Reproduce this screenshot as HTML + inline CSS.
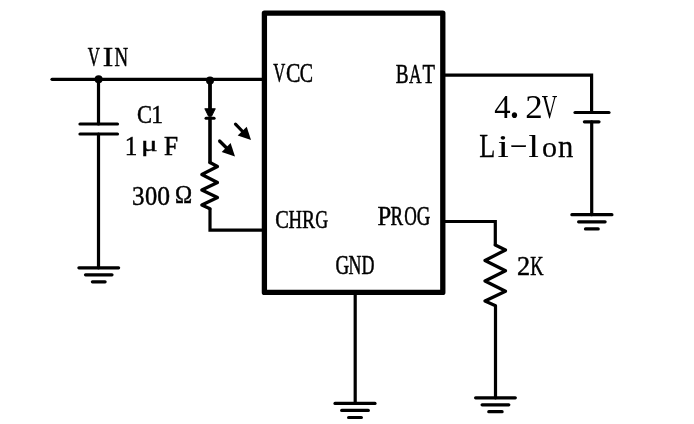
<!DOCTYPE html>
<html><head><meta charset="utf-8"><style>
html,body{margin:0;padding:0;background:#fff;width:694px;height:424px;overflow:hidden}
svg{display:block;will-change:transform}
text{font-family:"Liberation Serif",serif;fill:#000}
</style></head><body><svg width="694" height="424" viewBox="0 0 694 424"><path d="M52 79.3H263" fill="none" stroke="#000" stroke-width="3.2" stroke-linecap="round" stroke-linejoin="round"/><circle cx="98.6" cy="79.2" r="4.0"/><circle cx="210.0" cy="80.6" r="4.0"/><path d="M98.5 79.3V124" fill="none" stroke="#000" stroke-width="3.2" stroke-linecap="round" stroke-linejoin="round"/><path d="M80 124H117.5" fill="none" stroke="#000" stroke-width="3.2" stroke-linecap="round" stroke-linejoin="round"/><path d="M80 134H117.5" fill="none" stroke="#000" stroke-width="3.2" stroke-linecap="round" stroke-linejoin="round"/><path d="M98.5 134V267.8" fill="none" stroke="#000" stroke-width="3.2" stroke-linecap="round" stroke-linejoin="round"/><path d="M78.9 267.8H118.6" fill="none" stroke="#000" stroke-width="3.2" stroke-linecap="round" stroke-linejoin="round"/><path d="M85.5 274.8H112.0" fill="none" stroke="#000" stroke-width="3.2" stroke-linecap="round" stroke-linejoin="round"/><path d="M92.4 281.8H105.1" fill="none" stroke="#000" stroke-width="3.2" stroke-linecap="round" stroke-linejoin="round"/><path d="M210 79.3V109" fill="none" stroke="#000" stroke-width="3.8" stroke-linecap="butt" stroke-linejoin="round"/><path d="M204.8 108.7H215.3L211.6 116.2H208.5Z" fill="#000" stroke="#000" stroke-width="0.9" stroke-linejoin="round"/><path d="M206 118.3H214.1" fill="none" stroke="#000" stroke-width="3.0" stroke-linecap="round" stroke-linejoin="round"/><path d="M210 118V162.5" fill="none" stroke="#000" stroke-width="3.6" stroke-linecap="round" stroke-linejoin="round"/><path d="M210 162.5L217.5 166.5L201.8 174.5L217.5 182.5L201.8 190L217.5 197.5L201.8 205L210 208.7" fill="none" stroke="#000" stroke-width="3.2" stroke-linecap="round" stroke-linejoin="round"/><path d="M210 208.5V230.2H263" fill="none" stroke="#000" stroke-width="3.2" stroke-linecap="butt" stroke-linejoin="miter"/><path d="M235.5 124.2L243.6 132.5" fill="none" stroke="#000" stroke-width="3.2" stroke-linecap="round" stroke-linejoin="round"/><path d="M251.0 140.0L237.7 135.5L246.7 126.7Z" fill="#000"/><path d="M219.6 141.0L227.6 149.0" fill="none" stroke="#000" stroke-width="3.2" stroke-linecap="round" stroke-linejoin="round"/><path d="M235.0 156.4L221.7 152.0L230.6 143.1Z" fill="#000"/><rect x="264.4" y="13.1" width="178.4" height="279.3" fill="none" stroke="#000" stroke-width="5.3" stroke-linejoin="round"/><path d="M443 75.1H591.6V112.5" fill="none" stroke="#000" stroke-width="3.2" stroke-linecap="butt" stroke-linejoin="miter"/><path d="M575 112.5H609" fill="none" stroke="#000" stroke-width="3.2" stroke-linecap="round" stroke-linejoin="round"/><path d="M584.4 121.8H599" fill="none" stroke="#000" stroke-width="3.2" stroke-linecap="round" stroke-linejoin="round"/><path d="M591.7 121.8V214.7" fill="none" stroke="#000" stroke-width="3.2" stroke-linecap="round" stroke-linejoin="round"/><path d="M571.9 214.7H611.9" fill="none" stroke="#000" stroke-width="3.2" stroke-linecap="round" stroke-linejoin="round"/><path d="M578.6 221.8H605.1" fill="none" stroke="#000" stroke-width="3.2" stroke-linecap="round" stroke-linejoin="round"/><path d="M585.5 228.9H598.2" fill="none" stroke="#000" stroke-width="3.2" stroke-linecap="round" stroke-linejoin="round"/><path d="M355.2 292V403.4" fill="none" stroke="#000" stroke-width="3.2" stroke-linecap="round" stroke-linejoin="round"/><path d="M335.0 403.4H375.0" fill="none" stroke="#000" stroke-width="3.2" stroke-linecap="round" stroke-linejoin="round"/><path d="M341.7 410.4H368.3" fill="none" stroke="#000" stroke-width="3.2" stroke-linecap="round" stroke-linejoin="round"/><path d="M348.6 417.5H361.4" fill="none" stroke="#000" stroke-width="3.2" stroke-linecap="round" stroke-linejoin="round"/><path d="M443 221.5H495.3V245.5" fill="none" stroke="#000" stroke-width="3.2" stroke-linecap="butt" stroke-linejoin="miter"/><path d="M495.3 245L505.5 250L485 260.5L505.5 270.8L485 281L505.5 291.2L485 301L495.5 305.8V397.8" fill="none" stroke="#000" stroke-width="3.2" stroke-linecap="round" stroke-linejoin="round"/><path d="M475.6 397.8H515.3" fill="none" stroke="#000" stroke-width="3.2" stroke-linecap="round" stroke-linejoin="round"/><path d="M482.1 404.8H508.8" fill="none" stroke="#000" stroke-width="3.2" stroke-linecap="round" stroke-linejoin="round"/><path d="M488.8 411.7H502.1" fill="none" stroke="#000" stroke-width="3.2" stroke-linecap="round" stroke-linejoin="round"/><text transform="matrix(0.5997 0 0 0.9695 87.84 65.80)" font-size="28.0" stroke="#000" stroke-width="0.574">V</text><text transform="matrix(1.1258 0 0 0.9695 102.79 65.80)" font-size="28.0" stroke="#000" stroke-width="0.430">I</text><text transform="matrix(0.6739 0 0 0.9695 114.48 65.80)" font-size="28.0" stroke="#000" stroke-width="0.548">N</text><text transform="matrix(0.5946 0 0 0.9586 273.14 81.80)" font-size="28.0" stroke="#000" stroke-width="0.579">V</text><text transform="matrix(0.7727 0 0 0.9586 286.04 81.80)" font-size="28.0" stroke="#000" stroke-width="0.520">C</text><text transform="matrix(0.7102 0 0 0.9586 299.81 81.80)" font-size="28.0" stroke="#000" stroke-width="0.539">C</text><text transform="matrix(0.6878 0 0 0.9913 395.77 82.60)" font-size="28.0" stroke="#000" stroke-width="0.536">B</text><text transform="matrix(0.6205 0 0 0.9913 409.06 82.60)" font-size="28.0" stroke="#000" stroke-width="0.558">A</text><text transform="matrix(0.7283 0 0 0.9913 422.46 82.60)" font-size="28.0" stroke="#000" stroke-width="0.523">T</text><text transform="matrix(0.7289 0 0 0.9313 275.29 227.80)" font-size="28.0" stroke="#000" stroke-width="0.542">C</text><text transform="matrix(0.6696 0 0 0.9313 288.58 227.80)" font-size="28.0" stroke="#000" stroke-width="0.562">H</text><text transform="matrix(0.6983 0 0 0.9313 301.96 227.80)" font-size="28.0" stroke="#000" stroke-width="0.552">R</text><text transform="matrix(0.6402 0 0 0.9313 315.19 227.80)" font-size="28.0" stroke="#000" stroke-width="0.573">G</text><text transform="matrix(0.8831 0 0 0.9641 377.51 225.10)" font-size="28.0" stroke="#000" stroke-width="0.487">P</text><text transform="matrix(0.6759 0 0 0.9641 390.58 225.10)" font-size="28.0" stroke="#000" stroke-width="0.549">R</text><text transform="matrix(0.6221 0 0 0.9641 404.21 225.10)" font-size="28.0" stroke="#000" stroke-width="0.567">O</text><text transform="matrix(0.6732 0 0 0.9641 416.65 225.10)" font-size="28.0" stroke="#000" stroke-width="0.550">G</text><text transform="matrix(0.6787 0 0 0.9531 335.55 273.80)" font-size="28.0" stroke="#000" stroke-width="0.552">G</text><text transform="matrix(0.6366 0 0 0.9531 348.61 273.80)" font-size="28.0" stroke="#000" stroke-width="0.566">N</text><text transform="matrix(0.6423 0 0 0.9531 361.41 273.80)" font-size="28.0" stroke="#000" stroke-width="0.564">D</text><text transform="matrix(0.8040 0 0 0.9259 137.10 122.90)" font-size="28.0" stroke="#000" stroke-width="0.520">C</text><text transform="matrix(0.8369 0 0 0.9259 151.27 122.90)" font-size="28.0" stroke="#000" stroke-width="0.511">1</text><text transform="matrix(0.8978 0 0 0.9477 124.82 154.80)" font-size="28.0" stroke="#000" stroke-width="0.488">1</text><text transform="matrix(1.1084 0 0 0.7564 141.11 150.85)" font-size="28.0" stroke="#000" stroke-width="0.483">μ</text><text transform="matrix(0.9052 0 0 0.9477 163.89 154.80)" font-size="28.0" stroke="#000" stroke-width="0.486">F</text><text transform="matrix(0.8948 0 0 0.9695 131.93 204.60)" font-size="28.0" stroke="#000" stroke-width="0.483">3</text><text transform="matrix(0.8722 0 0 0.9695 144.89 204.60)" font-size="28.0" stroke="#000" stroke-width="0.489">0</text><text transform="matrix(0.9143 0 0 0.9695 157.15 204.60)" font-size="28.0" stroke="#000" stroke-width="0.478">0</text><text transform="matrix(0.8236 0 0 0.8819 175.03 203.28)" font-size="28.0" stroke="#000" stroke-width="0.528">Ω</text><text transform="matrix(0.9399 0 0 0.9804 517.07 274.90)" font-size="28.0" stroke="#000" stroke-width="0.469">2</text><text transform="matrix(0.6561 0 0 0.9804 530.20 274.90)" font-size="28.0" stroke="#000" stroke-width="0.550">K</text><text transform="matrix(1.1678 0 0 1.1836 494.36 117.80)" font-size="28.0">4</text><text transform="matrix(1.6321 0 0 1.7228 508.79 117.92)" font-size="28.0">.</text><text transform="matrix(1.2473 0 0 1.1836 525.27 117.80)" font-size="28.0">2</text><text transform="matrix(0.7656 0 0 1.1836 541.66 117.80)" font-size="28.0">V</text><text transform="matrix(0.9408 0 0 1.1713 479.37 156.80)" font-size="28.0" stroke="#000" stroke-width="0.237">L</text><text transform="matrix(1.4043 0 0 1.1516 497.70 156.68)" font-size="28.0" stroke="#000" stroke-width="0.196">i</text><text transform="matrix(1.9592 0 0 0.7410 509.39 150.79)" font-size="28.0" stroke="#000" stroke-width="0.185">-</text><text transform="matrix(1.3142 0 0 1.1607 528.39 156.68)" font-size="28.0" stroke="#000" stroke-width="0.202">l</text><text transform="matrix(1.0744 0 0 1.0730 541.98 156.58)" font-size="28.0" stroke="#000" stroke-width="0.233">o</text><text transform="matrix(1.0941 0 0 1.1180 558.02 156.57)" font-size="28.0" stroke="#000" stroke-width="0.226">n</text></svg></body></html>
